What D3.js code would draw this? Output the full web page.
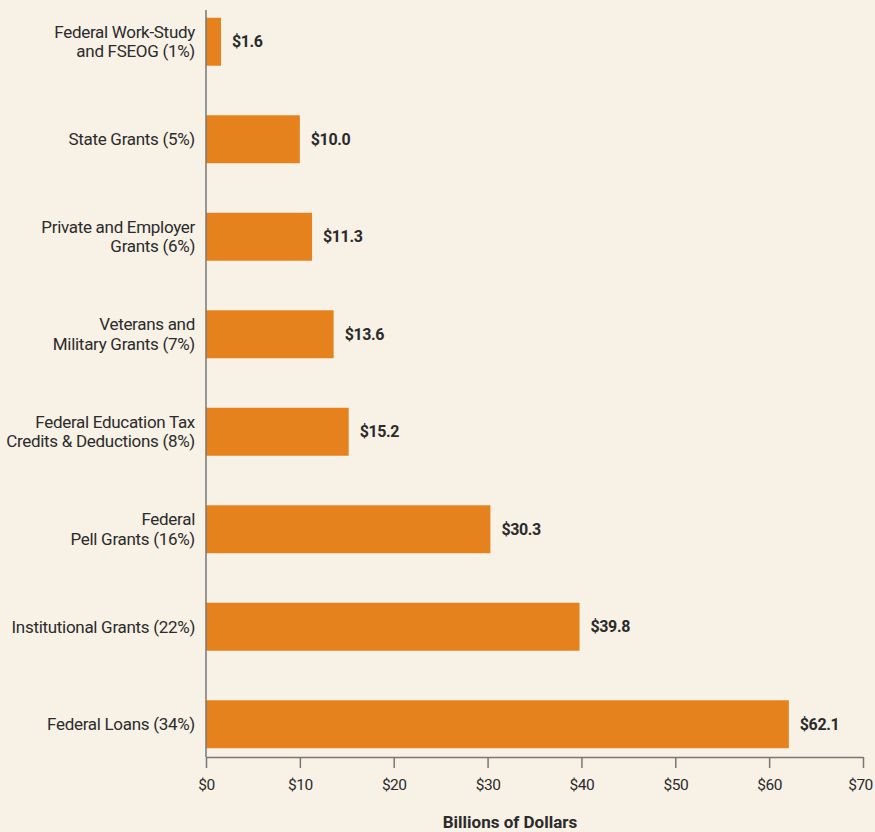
<!DOCTYPE html>
<html>
<head>
<meta charset="utf-8">
<script src="https://cdn.jsdelivr.net/npm/d3@7"></script>
<style>
  body { margin: 0; background: #f7f1e6; }
  text { font-family: "Roboto", "Liberation Sans", sans-serif; fill: #2b2b2b; }
</style>
</head>
<body>
<div id="chart"></div>
<script>
// data
const categories = [
  ["Federal Work-Study", "and FSEOG (1%)"],
  ["State Grants (5%)"],
  ["Private and Employer", "Grants (6%)"],
  ["Veterans and", "Military Grants (7%)"],
  ["Federal Education Tax", "Credits & Deductions (8%)"],
  ["Federal", "Pell Grants (16%)"],
  ["Institutional Grants (22%)"],
  ["Federal Loans (34%)"]
];
const values = [1.6, 10.0, 11.3, 13.6, 15.2, 30.3, 39.8, 62.1];
const tickValues = [0, 10, 20, 30, 40, 50, 60, 70];

const W = 875, H = 832;
const margin = { left: 206, right: 12, top: 10, bottom: 75 };

const svg = d3.select("#chart").append("svg")
  .attr("width", W).attr("height", H);

svg.append("rect").attr("width", W).attr("height", H).attr("fill", "#f7f1e6");

const x = d3.scaleLinear().domain([0, 70]).range([margin.left, 863]);
const y = d3.scaleBand()
  .domain(d3.range(values.length))
  .range([-7, 773])
  .paddingInner(0.508)
  .paddingOuter(0.254);

// bars
svg.selectAll(".bar")
  .data(values)
  .enter()
  .append("rect")
  .attr("class", "bar")
  .attr("x", x(0))
  .attr("y", (d, i) => y(i))
  .attr("width", d => x(d) - x(0))
  .attr("height", y.bandwidth())
  .attr("fill", "#e6821e");

// value labels
svg.selectAll(".val")
  .data(values)
  .enter()
  .append("text")
  .attr("class", "val")
  .attr("x", d => x(d) + 11)
  .attr("y", (d, i) => y(i) + y.bandwidth() / 2)
  .attr("dy", "0.35em")
  .style("font-size", "16px")
  .style("font-weight", "bold")
  .style("letter-spacing", "-0.4px")
  .text(d => "$" + d.toFixed(1));

// category labels
const lab = svg.selectAll(".lab")
  .data(categories)
  .enter()
  .append("text")
  .attr("class", "lab")
  .attr("text-anchor", "end")
  .style("font-size", "17px")
  .style("letter-spacing", "-0.3px")
  .attr("transform", (d, i) => `translate(195,${y(i) + y.bandwidth() / 2})`);

lab.selectAll("tspan")
  .data(d => d.map((t, j) => ({ t, j, n: d.length })))
  .enter()
  .append("tspan")
  .attr("x", 0)
  .attr("y", d => (d.j - (d.n - 1) / 2) * 19.5)
  .attr("dy", "0.35em")
  .text(d => d.t);

// y axis line
svg.append("line")
  .attr("x1", x(0)).attr("x2", x(0))
  .attr("y1", 10).attr("y2", 757)
  .attr("stroke", "#777").attr("stroke-width", 1.5);

// x axis
const xAxis = svg.append("g")
  .attr("transform", "translate(0,757)")
  .call(d3.axisBottom(x).tickValues(tickValues).tickSize(11).tickSizeOuter(0)
    .tickFormat(d => "$" + d));

xAxis.select(".domain").attr("stroke", "#777").attr("stroke-width", 1.5);
xAxis.selectAll(".tick line").attr("stroke", "#777").attr("stroke-width", 1.5);
xAxis.selectAll(".tick text")
  .attr("y", 22)
  .style("font-size", "15.5px")
  .style("letter-spacing", "-0.5px")
  .style("font-family", "Roboto, sans-serif")
  .attr("fill", "#2b2b2b");
// keep the last tick label inside the picture
xAxis.selectAll(".tick text").filter(d => d === 70).attr("dx", -3);

svg.append("text")
  .attr("x", 510)
  .attr("y", 828)
  .attr("text-anchor", "middle")
  .style("font-size", "17px")
  .style("font-weight", "bold")
  .text("Billions of Dollars");
</script>
</body>
</html>
